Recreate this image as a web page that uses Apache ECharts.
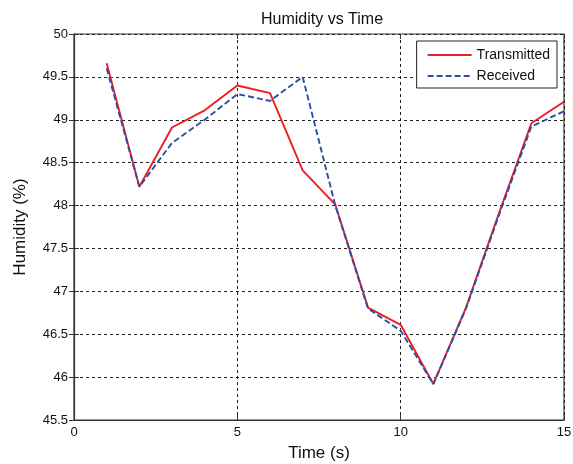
<!DOCTYPE html>
<html>
<head>
<meta charset="utf-8">
<script src="https://cdn.jsdelivr.net/npm/echarts@6/dist/echarts.min.js"></script>
<style>html,body{margin:0;padding:0;background:#fff}#c{width:573px;height:464px}</style>
</head>
<body>
<div id="c"></div>
<script>
const times = [1,2,3,4,5,6,7,8,9,10,11,12,13,14,15];
const transmitted = [49.66,48.22,48.91,49.11,49.40,49.31,48.41,48.01,46.81,46.61,45.92,46.81,47.90,48.96,49.21];
const received    = [49.60,48.22,48.73,49.00,49.30,49.22,49.50,48.00,46.80,46.54,45.92,46.80,47.88,48.92,49.10];
const xTicks = [0,5,10,15];
const yTicks = [45.5,46,46.5,47,47.5,48,48.5,49,49.5,50];

const font = 'Liberation Sans, Arial, sans-serif';
const chart = echarts.init(document.getElementById('c'), null, {renderer:'canvas'});
const gridLine = {show:true, lineStyle:{color:'#222', type:[3,3], width:1}};
const axisLine = {show:true, onZero:false, lineStyle:{color:'#333', width:1.2}};
chart.setOption({
  animation:false,
  backgroundColor:'#fff',
  title:{text:'Humidity vs Time', left:317, top:7, textAlign:'center',
    textStyle:{fontFamily:font, fontSize:16, fontWeight:'normal', color:'#111'}},
  legend:{
    right:16, top:41, orient:'vertical', itemWidth:44, itemHeight:10, itemGap:7,
    padding:[7,7,5,10], borderColor:'#222', borderWidth:1, backgroundColor:'#fff',
    itemStyle:{opacity:0},
    textStyle:{fontFamily:font, fontSize:14, color:'#111'},
    data:['Transmitted','Received']
  },
  grid:{left:74, right:9, top:34, bottom:44, outerBoundsMode:'none', containLabel:false,
    show:true, borderColor:'#333', borderWidth:1.2, backgroundColor:'transparent'},
  xAxis:[{
    type:'value', min:0, max:15, interval:5,
    name:'Time (s)', nameLocation:'middle', nameGap:25,
    nameTextStyle:{fontFamily:font, fontSize:17, color:'#111'},
    axisLine:axisLine, axisTick:{show:true, inside:true, length:5, lineStyle:{color:'#333'}},
    axisLabel:{fontFamily:font, fontSize:13, color:'#111', margin:6,
      formatter:v=>xTicks.includes(v)?String(v):''},
    splitLine:gridLine
  },{
    type:'value', min:0, max:15, interval:5, position:'top',
    axisLine:{show:false}, axisTick:{show:true, inside:true, length:5, lineStyle:{color:'#333'}},
    axisLabel:{show:false}, splitLine:{show:false}
  }],
  yAxis:[{
    type:'value', min:45.5, max:50, interval:0.5,
    name:'Humidity (%)', nameLocation:'middle', nameGap:45,
    nameTextStyle:{fontFamily:font, fontSize:17, color:'#111'},
    axisLine:axisLine, axisTick:{show:true, inside:true, length:5, lineStyle:{color:'#333'}},
    axisLabel:{fontFamily:font, fontSize:13, color:'#111', margin:6,
      formatter:v=>{const t=yTicks.find(y=>Math.abs(y-v)<1e-6);return t===undefined?'':String(t);}},
    splitLine:gridLine
  },{
    type:'value', min:45.5, max:50, interval:0.5, position:'right',
    axisLine:{show:false}, axisTick:{show:true, inside:true, length:5, lineStyle:{color:'#333'}},
    axisLabel:{show:false}, splitLine:{show:false}
  }],
  series:[
    {name:'Transmitted', type:'line', symbol:'none', data:times.map((t,i)=>[t,transmitted[i]]),
     lineStyle:{color:'#ee1c25', width:1.9}, itemStyle:{color:'#ee1c25'}, z:3},
    {name:'Received', type:'line', symbol:'none', data:times.map((t,i)=>[t,received[i]]),
     lineStyle:{color:'#2a4fa3', width:1.9, type:[6,3]}, itemStyle:{color:'#2a4fa3'}, z:4}
  ]
});
</script>
</body>
</html>
